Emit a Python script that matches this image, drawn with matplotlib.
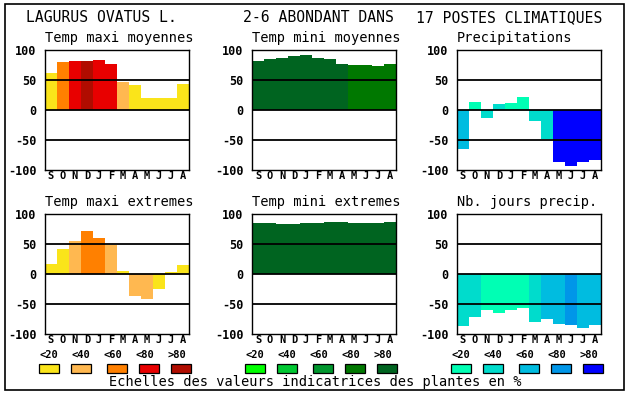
import matplotlib
matplotlib.use('Agg')
import matplotlib.pyplot as plt
from matplotlib.patches import Rectangle
import numpy as np

W, H = 630, 394
MONO = 'DejaVu Sans Mono'

months = ['S', 'O', 'N', 'D', 'J', 'F', 'M', 'A', 'M', 'J', 'J', 'A']
yticks = [100, 50, 0, -50, -100]
legend_labels = ['<20', '<40', '<60', '<80', '>80']

reds = ['#fae41a', '#ffb850', '#ff8000', '#e80000', '#b00c00']
greens = ['#00ff00', '#00c832', '#00962d', '#007800', '#006420']
blues = ['#00ffb4', '#00dccc', '#00bce0', '#0096e8', '#0000ff']

# values, class = index in the palette
tmax_moy = [62, 80, 82, 82, 83, 77, 47, 42, 20, 20, 20, 43]
tmax_moy_cls = [0, 2, 3, 4, 3, 3, 1, 0, 0, 0, 0, 0]
tmin_moy = [82, 85, 87, 90, 92, 87, 85, 77, 75, 75, 73, 77]
tmin_moy_cls = [4, 4, 4, 4, 4, 4, 4, 4, 3, 3, 3, 3]
precip = [-65, 13, -13, 10, 12, 22, -18, -48, -86, -93, -86, -84]
precip_cls = [2, 0, 1, 1, 0, 0, 1, 1, 4, 4, 4, 4]
tmax_ext = [17, 42, 55, 72, 60, 49, 5, -36, -42, -25, 4, 15]
tmax_ext_cls = [0, 0, 1, 2, 2, 1, 0, 1, 1, 0, 0, 0]
tmin_ext = [85, 85, 84, 84, 85, 85, 87, 87, 85, 85, 85, 87]
tmin_ext_cls = [4] * 12
jours = [-87, -72, -60, -65, -60, -57, -80, -75, -84, -85, -90, -85]
jours_cls = [1, 1, 0, 0, 0, 0, 1, 2, 2, 3, 2, 2]

panels = [
    ('Temp maxi moyennes', tmax_moy, tmax_moy_cls, reds, 0, 0),
    ('Temp mini moyennes', tmin_moy, tmin_moy_cls, greens, 0, 1),
    ('Precipitations', precip, precip_cls, blues, 0, 2),
    ('Temp maxi extremes', tmax_ext, tmax_ext_cls, reds, 1, 0),
    ('Temp mini extremes', tmin_ext, tmin_ext_cls, greens, 1, 1),
    ('Nb. jours precip.', jours, jours_cls, blues, 1, 2),
]

col_x = [45, 252, 457]
row_y = [50, 214]
AW, AH = 144, 120


def fx(x):
    return x / W


def fy(y):
    return 1 - y / H


fig = plt.figure(figsize=(W / 100, H / 100), dpi=100)
fig.patch.set_facecolor('white')

for title, vals, cls, pal, r, c in panels:
    x0, y0 = col_x[c], row_y[r]
    ax = fig.add_axes([fx(x0), fy(y0 + AH), AW / W, AH / H])
    pos = np.arange(len(vals)) + 0.5
    ax.bar(pos, vals, width=1.0, color=[pal[k] for k in cls], linewidth=0, zorder=1)
    for yl in (50, 0, -50):
        ax.axhline(yl, color='black', lw=1.3, zorder=3)
    ax.set_xlim(0, 12)
    ax.set_ylim(-100, 100)
    ax.set_yticks(yticks)
    ax.set_yticklabels([str(v) for v in yticks], fontfamily=MONO,
                       fontweight='bold', fontsize=8.5)
    ax.set_xticks(pos)
    ax.set_xticklabels(months, fontfamily=MONO, fontweight='bold', fontsize=7.5)
    ax.tick_params(length=0, axis='y', pad=6)
    ax.tick_params(length=0, axis='x', pad=1)
    for s in ax.spines.values():
        s.set_linewidth(1.0)
    fig.text(fx(x0), fy(y0 - 12), title, fontfamily=MONO, fontsize=9.8,
             ha='left', va='center')

# legend swatches under each column
sw_off = [0, 32, 68, 100, 132]
lab_off = [10, 42, 74, 106, 138]
for base, pal in zip([39, 245, 451], [reds, greens, blues]):
    for i in range(5):
        fig.text(fx(base + lab_off[i]), fy(355), legend_labels[i], fontfamily=MONO,
                 fontweight='bold', fontsize=7.5, ha='center', va='center')
        fig.add_artist(Rectangle((fx(base + sw_off[i]), fy(373)), 20 / W, 9 / H,
                                 facecolor=pal[i], edgecolor='black', lw=0.9,
                                 transform=fig.transFigure))

fig.text(fx(315), fy(382), 'Echelles des valeurs indicatrices des plantes en %',
         fontfamily=MONO, fontsize=9.8, ha='center', va='center')

fig.text(fx(26), fy(18), 'LAGURUS OVATUS L.', fontfamily=MONO, fontsize=10.6,
         ha='left', va='center')
fig.text(fx(243), fy(18), '2-6 ABONDANT DANS', fontfamily=MONO, fontsize=10.6,
         ha='left', va='center')
fig.text(fx(602), fy(18), '17 POSTES CLIMATIQUES', fontfamily=MONO, fontsize=10.6,
         ha='right', va='center')

fig.add_artist(Rectangle((fx(5), fy(390)), 619 / W, 386 / H, fill=False,
                         edgecolor='black', lw=1.2, transform=fig.transFigure))

fig.savefig('out.png', dpi=100, facecolor='white')
